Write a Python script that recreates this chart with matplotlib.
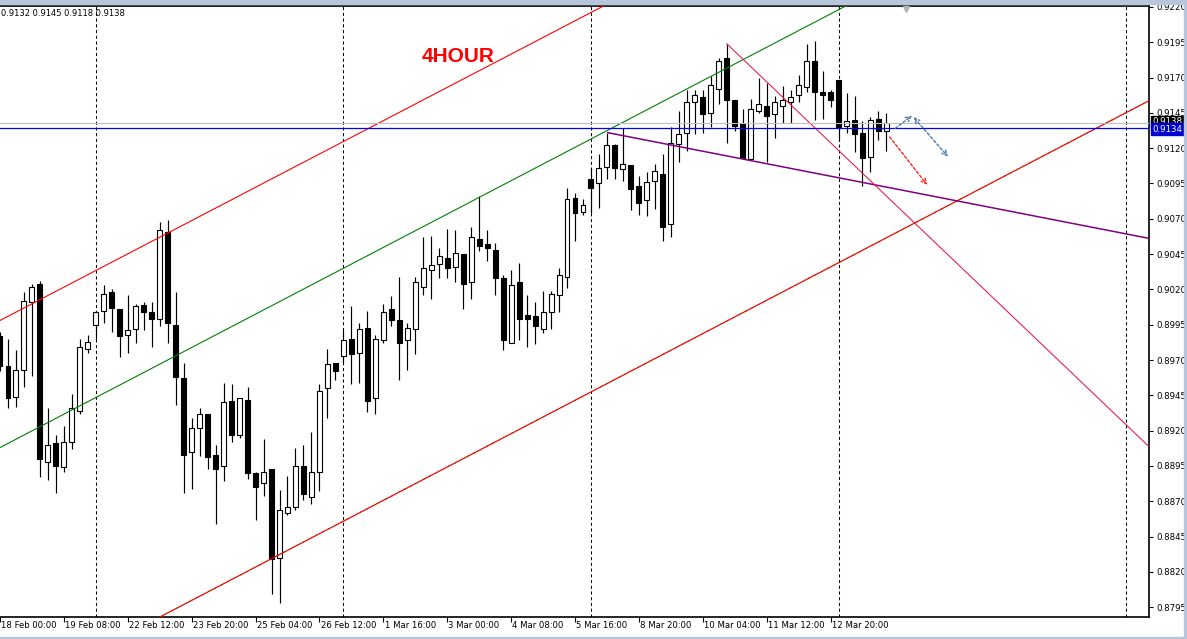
import matplotlib as mpl
mpl.use('Agg')
import matplotlib.pyplot as plt
import matplotlib.transforms as mtransforms
from matplotlib.patches import Rectangle

# ----------------
# Data: 4H candles (bar index 0 = 18 Feb 00:00)
# ----------------
opens = [0.8987, 0.8966, 0.8944, 0.8963, 0.9011, 0.9024, 0.8898, 0.8911, 0.8894, 0.8912,
         0.8934, 0.8978, 0.8995, 0.9005, 0.9018, 0.9006, 0.8988, 0.8992, 0.9009, 0.9004,
         0.8999, 0.9061, 0.8995, 0.8957, 0.8905, 0.8922, 0.8932, 0.8903, 0.8895, 0.8941,
         0.8917, 0.8942, 0.8890, 0.8883, 0.8893, 0.8830, 0.8862, 0.8866, 0.8895, 0.8873,
         0.8891, 0.8950, 0.8968, 0.8973, 0.8985, 0.8975, 0.8993, 0.8943, 0.8984, 0.9006,
         0.8998, 0.8984, 0.8992, 0.9022, 0.9034, 0.9038, 0.9042, 0.9036, 0.9045, 0.9025,
         0.9056, 0.9052, 0.9048, 0.9028, 0.8982, 0.9025, 0.9002, 0.9001, 0.8992, 0.9004,
         0.9016, 0.9029, 0.9085, 0.9075, 0.9098, 0.9095, 0.9107, 0.9122, 0.9105, 0.9108,
         0.9093, 0.9083, 0.9097, 0.9102, 0.9066, 0.9123, 0.9131, 0.9153, 0.9156, 0.9145,
         0.9162, 0.9184, 0.9154, 0.9137, 0.9112, 0.9146, 0.9150, 0.9144, 0.9150, 0.9153,
         0.9158, 0.9163, 0.9182, 0.9160, 0.9160, 0.9168, 0.9136, 0.9140, 0.9131, 0.9114,
         0.9141, 0.9132]
highs = [0.8990, 0.8985, 0.8977, 0.9018, 0.9024, 0.9026, 0.8936, 0.8917, 0.8923, 0.8946,
         0.8985, 0.8988, 0.9005, 0.9023, 0.9020, 0.9006, 0.9016, 0.9010, 0.9011, 0.9011,
         0.9068, 0.9069, 0.9018, 0.8968, 0.8929, 0.8936, 0.8932, 0.8910, 0.8954, 0.8953,
         0.8943, 0.8951, 0.8891, 0.8914, 0.8893, 0.8878, 0.8888, 0.8908, 0.8910, 0.8919,
         0.8953, 0.8978, 0.8968, 0.8991, 0.9008, 0.8996, 0.9005, 0.8988, 0.9010, 0.9015,
         0.9029, 0.8996, 0.9029, 0.9057, 0.9058, 0.9049, 0.9063, 0.9062, 0.9045, 0.9064,
         0.9086, 0.9062, 0.9053, 0.9030, 0.9034, 0.9039, 0.9016, 0.9011, 0.9019, 0.9019,
         0.9035, 0.9092, 0.9088, 0.9084, 0.9106, 0.9116, 0.9131, 0.9123, 0.9134, 0.9108,
         0.9100, 0.9103, 0.9109, 0.9116, 0.9135, 0.9146, 0.9161, 0.9161, 0.9161, 0.9171,
         0.9184, 0.9194, 0.9154, 0.9148, 0.9155, 0.9170, 0.9166, 0.9157, 0.9164, 0.9161,
         0.9172, 0.9194, 0.9196, 0.9175, 0.9161, 0.9168, 0.9159, 0.9157, 0.9139, 0.9142,
         0.9146, 0.9145]
lows = [0.8962, 0.8936, 0.8937, 0.8951, 0.8959, 0.8887, 0.8885, 0.8876, 0.8891, 0.8907,
        0.8932, 0.8975, 0.8985, 0.8996, 0.8990, 0.8972, 0.8975, 0.8982, 0.8991, 0.8979,
        0.8994, 0.8982, 0.8938, 0.8876, 0.8879, 0.8902, 0.8893, 0.8854, 0.8884, 0.8912,
        0.8915, 0.8886, 0.8857, 0.8874, 0.8804, 0.8798, 0.8860, 0.8864, 0.8871, 0.8868,
        0.8877, 0.8929, 0.8956, 0.8968, 0.8953, 0.8954, 0.8933, 0.8932, 0.8982, 0.8994,
        0.8956, 0.8963, 0.8974, 0.9016, 0.9013, 0.9028, 0.9028, 0.9025, 0.9006, 0.9013,
        0.9047, 0.9040, 0.9016, 0.8977, 0.8982, 0.8984, 0.8979, 0.8981, 0.8989, 0.8992,
        0.9004, 0.9021, 0.9054, 0.9073, 0.9074, 0.9078, 0.9098, 0.9098, 0.9097, 0.9076,
        0.9073, 0.9072, 0.9077, 0.9054, 0.9057, 0.9110, 0.9118, 0.9130, 0.9131, 0.9135,
        0.9151, 0.9124, 0.9132, 0.9112, 0.9112, 0.9145, 0.9110, 0.9127, 0.9138, 0.9138,
        0.9153, 0.9160, 0.9140, 0.9141, 0.9149, 0.9126, 0.9131, 0.9117, 0.9093, 0.9103,
        0.9126, 0.9118]
closes = [0.8966, 0.8943, 0.8963, 0.9012, 0.9022, 0.8900, 0.8910, 0.8895, 0.8912, 0.8936,
          0.8979, 0.8983, 0.9004, 0.9017, 0.9007, 0.8987, 0.8991, 0.9008, 0.9004, 0.8999,
          0.9062, 0.8996, 0.8958, 0.8903, 0.8922, 0.8932, 0.8901, 0.8893, 0.8940, 0.8917,
          0.8943, 0.8890, 0.8880, 0.8891, 0.8829, 0.8864, 0.8866, 0.8895, 0.8875, 0.8891,
          0.8948, 0.8967, 0.8962, 0.8984, 0.8974, 0.8992, 0.8941, 0.8985, 0.9004, 0.8998,
          0.8982, 0.8993, 0.9025, 0.9035, 0.9037, 0.9044, 0.9035, 0.9046, 0.9024, 0.9057,
          0.9051, 0.9049, 0.9028, 0.8984, 0.9023, 0.8999, 0.8999, 0.8994, 0.9004, 0.9017,
          0.9030, 0.9084, 0.9074, 0.9080, 0.9092, 0.9106, 0.9122, 0.9106, 0.9109, 0.9091,
          0.9081, 0.9096, 0.9104, 0.9064, 0.9124, 0.9130, 0.9153, 0.9158, 0.9144, 0.9165,
          0.9182, 0.9154, 0.9136, 0.9113, 0.9148, 0.9151, 0.9143, 0.9153, 0.9154, 0.9156,
          0.9165, 0.9182, 0.9160, 0.9158, 0.9154, 0.9135, 0.9139, 0.9130, 0.9113, 0.9140,
          0.9132, 0.9138]

time_labels = ['18 Feb 00:00', '19 Feb 08:00', '22 Feb 12:00', '23 Feb 20:00', '25 Feb 04:00',
               '26 Feb 12:00', '1 Mar 16:00', '3 Mar 00:00', '4 Mar 08:00', '5 Mar 16:00',
               '8 Mar 20:00', '10 Mar 04:00', '11 Mar 12:00', '12 Mar 20:00']
label_bars = [0, 8, 16, 24, 32, 40, 48, 56, 64, 72, 80, 88, 96, 104]
week_separators = [12, 43, 74, 105, 141]

price_ticks = [0.8795, 0.8820, 0.8845, 0.8870, 0.8895, 0.8920, 0.8945, 0.8970, 0.8995,
               0.9020, 0.9045, 0.9070, 0.9095, 0.9120, 0.9145, 0.9170, 0.9195, 0.9220]

# drawn objects (bar, price)
channel_top = ([0, 76], [0.8998, 0.9222])
channel_mid = ([0, 106], [0.8908, 0.9221])
channel_low = ([19, 144], [0.8785, 0.9154])
purple_line = ([76.1, 144], [0.9131, 0.9056])
crimson_line = ([91, 144], [0.9194, 0.8908])
hline_price = 0.9134
bid_price = 0.9138
blue_arrow_up = ([112.1, 114.2], [0.9134, 0.9143])
blue_arrow_down = ([114.4, 118.7], [0.9142, 0.9114])
red_arrow = ([111.4, 116.1], [0.9128, 0.9094])

# ----------------
# Figure
# ----------------
fig = plt.figure(figsize=(11.87, 6.39), dpi=100)
ax = fig.add_axes([0, 1 - 617 / 639, 1149 / 1187, 611 / 639])
ax.set_xlim(0.25, 143.875)
ax.set_ylim(0.8788, 0.92207)

bars = list(range(len(opens)))

# period separators
for s in week_separators:
    ax.axvline(s, color='black', lw=0.75, ls=(0, (3, 2.5)), zorder=1)

# candles
ax.vlines(bars, lows, highs, color='black', lw=0.85, zorder=2)
for i in bars:
    o, c = opens[i], closes[i]
    fill = 'white' if c >= o else 'black'
    ax.bar(i, max(abs(c - o), 0.00002), bottom=min(o, c), width=0.62,
           color=fill, edgecolor='black', linewidth=0.8, zorder=2.5)

# trend lines
ax.plot(*channel_top, color='#ff0000', lw=0.8, zorder=3)
ax.plot(*channel_mid, color='#008000', lw=0.8, zorder=3)
ax.plot(*channel_low, color='#ff0000', lw=0.9, zorder=3)
ax.plot(*channel_low, color='#008000', lw=0.9, ls=(0, (0.7, 5)), zorder=3.1)
ax.plot(*purple_line, color='#800080', lw=1.1, zorder=3)
ax.plot(*crimson_line, color='#e8144a', lw=0.75, zorder=3)
ax.axhline(bid_price, color='#c0c0c0', lw=0.8, zorder=3)
ax.axhline(hline_price, color='#0000ff', lw=0.9, zorder=3.2)

# arrows
def dashed_arrow(pts, color, style):
    ax.annotate('', xy=(pts[0][1], pts[1][1]), xytext=(pts[0][0], pts[1][0]),
                arrowprops=dict(arrowstyle=style, color=color, lw=1.0, ls=(0, (2, 1.5)),
                                shrinkA=0, shrinkB=0, mutation_scale=9), zorder=4)

dashed_arrow(blue_arrow_up, '#4a78a8', '->')
dashed_arrow(blue_arrow_down, '#4a78a8', '<->')
dashed_arrow(red_arrow, '#ff2020', '->')
ax.plot(113.4, 0.92185, marker='v', color='#b4b4b4', ms=5, zorder=4, clip_on=False)

ax.text(57.4, 0.9185, '4HOUR', color='#ff0000', fontsize=15, fontweight='bold',
        family='Liberation Sans', ha='center', va='center')
ax.text(0.001, 0.987, '%.4f %.4f %.4f %.4f' % (opens[-1], highs[-1], lows[-1], closes[-1]),
        transform=ax.transAxes, fontsize=6, family='DejaVu Sans', va='center', ha='left')

# ----------------
# Axes styling
# ----------------
for side in ['top', 'right', 'bottom']:
    ax.spines[side].set_linewidth(1.2)
ax.spines['left'].set_visible(False)

ax.yaxis.tick_right()
ax.set_yticks(price_ticks)
ax.set_yticklabels(['%.4f' % p for p in price_ticks])
ax.tick_params(axis='y', direction='out', length=3, width=0.8, pad=2, labelsize=6.2)

ax.set_xticks(label_bars)
ax.set_xticklabels([])
ax.tick_params(axis='x', direction='out', length=3.5, width=0.8)
xtrans = ax.get_xaxis_transform()
for b, lab in zip(label_bars, time_labels):
    ax.text(b + 0.15, -0.006, lab, transform=xtrans, fontsize=6.1, ha='left', va='top',
            clip_on=False)

# price boxes on the scale (blue one covers the lower half of the black one)
ytrans = mtransforms.blended_transform_factory(ax.transAxes, ax.transData)
ax.text(1.003, bid_price + 0.00006, '%.4f' % bid_price, transform=ytrans, color='white',
        fontsize=6.2, va='center', ha='left', clip_on=False, zorder=5,
        bbox=dict(boxstyle='square,pad=0.15', fc='black', ec='black'))
ax.text(1.003, hline_price - 0.00005, '%.4f' % hline_price, transform=ytrans, color='white',
        fontsize=6.2, va='center', ha='left', clip_on=False, zorder=6,
        bbox=dict(boxstyle='square,pad=0.2', fc='#0000d0', ec='#0000d0'))

# window frame bits
fig.patches.append(Rectangle((0, 1 - 4 / 639), 1, 4 / 639, transform=fig.transFigure,
                             color='#b8c6dc', zorder=0))
fig.patches.append(Rectangle((0, 0), 1, 2 / 639, transform=fig.transFigure,
                             color='#b8c6dc', zorder=0))
fig.patches.append(Rectangle((1 - 3 / 1187, 0), 3 / 1187, 1, transform=fig.transFigure,
                             color='#b8c6dc', zorder=0))

fig.savefig('out.png', dpi=100)
